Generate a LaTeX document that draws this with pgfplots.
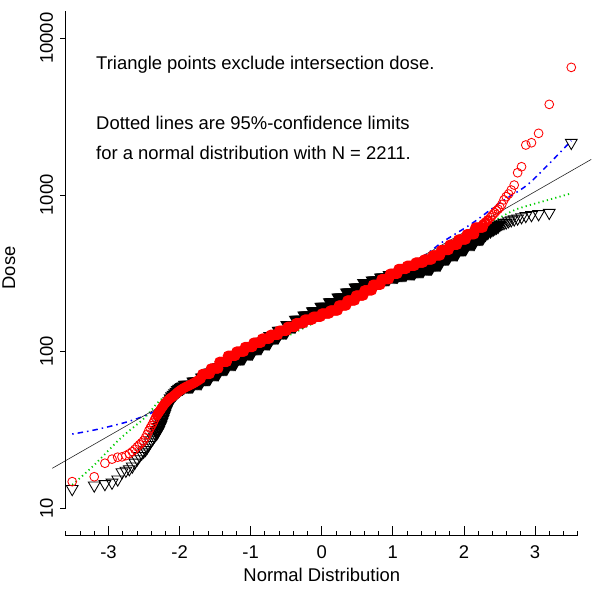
\documentclass[border=0pt]{standalone}
\usepackage{fontspec}
\setmainfont{Liberation Sans}
\usepackage{pgfplots}
\pgfplotsset{compat=1.18}
\definecolor{rgreen}{RGB}{0,205,0}
\begin{document}
\fontsize{18.5}{22}\selectfont
\begin{tikzpicture}
\useasboundingbox (0bp,0bp) rectangle (600bp,597bp);
\begin{axis}[
  at={(52.3bp,49.5bp)}, anchor=south west,
  scale only axis, width=538.9bp, height=540.6bp,
  xmin=-3.79, xmax=3.79, ymode=log, ymin=5.6234, ymax=15849,
  hide axis, clip=false,
]
% black triangles (intersection dose excluded): tails
\addplot[only marks, mark=triangle, mark size=6.8bp,
  mark options={rotate=180, draw=black, line width=0.85bp, fill=none}] coordinates {
(-3.51,13.3) (-3.20,14.0) (-3.05,14.3) (-2.95,14.6) (-2.87,15.3) (-2.81,17.0)
(-2.755,17.4) (-2.707,17.8) (-2.665,18.5) (-2.628,19.6) (-2.594,20.6) (-2.563,21.6)
(-2.533,22.4) (-2.506,23.0) (-2.480,23.6) (-2.457,24.4) (-2.434,25.4) (-2.413,26.4)
(-2.393,27.2) (-2.373,28.0) (-2.355,28.8) (-2.336,29.5)
(2.506,645) (2.533,655) (2.563,662)
(2.594,668) (2.628,680) (2.665,690) (2.707,699) (2.755,709) (2.81,722)
(2.87,735) (2.95,745) (3.05,755) (3.20,770) (3.51,2153)
};
% black triangles: dense central part
\addplot[only marks, mark=triangle, mark size=6.4bp,
  mark options={rotate=180, draw=black, line width=2.2bp, fill=none}] coordinates {
(-2.320,30.5) (-2.303,31.5)
(-2.288,32.8) (-2.272,34.0) (-2.258,35.5) (-2.243,37.0) (-2.230,38.5) (-2.216,40.0)
(-2.200,42.0) (-2.180,44.0) (-2.160,46.0) (-2.140,48.0) (-2.120,50.0) (-2.100,51.5)
(-2.080,52.8) (-2.060,54.0) (-2.040,55.2) (-2.020,56.5) (-2.000,57.5) (-1.980,58.5)
(-1.960,59.0) (-1.940,59.7)
(-1.920,61) (-1.905,61) (-1.890,61) (-1.875,61) (-1.860,61) (-1.845,61) (-1.830,61) (-1.815,61)
(-1.800,64) (-1.785,64) (-1.770,64) (-1.755,64) (-1.740,64) (-1.725,64) (-1.710,64) (-1.695,64)
(-1.680,68) (-1.665,68) (-1.650,68) (-1.635,68) (-1.620,68) (-1.605,68) (-1.590,68) (-1.575,68)
(-1.560,73) (-1.545,73) (-1.530,73) (-1.515,73) (-1.500,73) (-1.485,73) (-1.470,73) (-1.455,73)
(-1.440,79) (-1.425,79) (-1.410,79) (-1.395,79) (-1.380,79) (-1.365,79) (-1.350,79) (-1.335,79)
(-1.320,85) (-1.305,85) (-1.290,85) (-1.275,85) (-1.260,85) (-1.245,85) (-1.230,85) (-1.215,85)
(-1.200,92) (-1.185,92) (-1.170,92) (-1.155,92) (-1.140,92) (-1.125,92) (-1.110,92) (-1.095,92)
(-1.080,99) (-1.065,99) (-1.050,99) (-1.035,99) (-1.020,99) (-1.005,99) (-0.990,99) (-0.975,99)
(-0.960,107) (-0.945,107) (-0.930,107) (-0.915,107) (-0.900,107) (-0.885,107) (-0.870,107) (-0.855,107)
(-0.840,115) (-0.825,115) (-0.810,115) (-0.795,115) (-0.780,115) (-0.765,115) (-0.750,115) (-0.735,115)
(-0.720,125) (-0.705,125) (-0.690,125) (-0.675,125) (-0.660,125) (-0.645,125) (-0.630,125) (-0.615,125)
(-0.600,135) (-0.585,135) (-0.570,135) (-0.555,135) (-0.540,135) (-0.525,135) (-0.510,135) (-0.495,135)
(-0.480,147) (-0.465,147) (-0.450,147) (-0.435,147) (-0.420,147) (-0.405,147) (-0.390,147) (-0.375,147)
(-0.360,159) (-0.345,159) (-0.330,159) (-0.315,159) (-0.300,159) (-0.285,159) (-0.270,159) (-0.255,159)
(-0.240,169) (-0.225,169) (-0.210,169) (-0.195,169) (-0.180,169) (-0.165,169) (-0.150,169) (-0.135,169)
(-0.120,180) (-0.105,180) (-0.090,180) (-0.075,180) (-0.060,180) (-0.045,180) (-0.030,180) (-0.015,180)
(0.000,192) (0.015,192) (0.030,192) (0.045,192) (0.060,192) (0.075,192) (0.090,192) (0.105,192)
(0.120,205) (0.135,205) (0.150,205) (0.165,205) (0.180,205) (0.195,205) (0.210,205) (0.225,205)
(0.240,220) (0.255,220) (0.270,220) (0.285,220) (0.300,220) (0.315,220) (0.330,220) (0.345,220)
(0.360,237) (0.375,237) (0.390,237) (0.405,237) (0.420,237) (0.435,237) (0.450,237) (0.465,237)
(0.480,255) (0.495,255) (0.510,255) (0.525,255) (0.540,255) (0.555,255) (0.570,255) (0.585,255)
(0.600,272) (0.615,272) (0.630,272) (0.645,272) (0.660,272) (0.675,272) (0.690,272) (0.705,272)
(0.720,283) (0.735,283) (0.750,283) (0.765,283) (0.780,283) (0.795,283) (0.810,283) (0.825,283)
(0.840,295) (0.855,295) (0.870,295) (0.885,295) (0.900,295) (0.915,295) (0.930,295) (0.945,295)
(0.960,306) (0.975,306) (0.990,306) (1.005,306) (1.020,306) (1.035,306) (1.050,306) (1.065,306)
(1.080,314) (1.095,314) (1.110,314) (1.125,314) (1.140,314) (1.155,314) (1.170,314) (1.185,314)
(1.200,322) (1.215,322) (1.230,322) (1.245,322) (1.260,322) (1.275,322) (1.290,322) (1.305,322)
(1.320,332) (1.335,332) (1.350,332) (1.365,332) (1.380,332) (1.395,332) (1.410,332) (1.425,332)
(1.440,345) (1.455,345) (1.470,345) (1.485,345) (1.500,345) (1.515,345) (1.530,345) (1.545,345)
(1.560,365) (1.575,365) (1.590,365) (1.605,365) (1.620,365) (1.635,365) (1.650,365) (1.665,365)
(1.680,400) (1.695,400) (1.710,400) (1.725,400) (1.740,400) (1.755,400) (1.770,400) (1.785,400)
(1.800,425) (1.815,425) (1.830,425) (1.845,425) (1.860,425) (1.875,425) (1.890,425) (1.905,425)
(1.920,458) (1.935,458) (1.950,458) (1.965,458) (1.980,458) (1.995,458) (2.010,458) (2.025,458)
(2.040,495) (2.055,495) (2.070,495) (2.085,495) (2.100,495) (2.115,495) (2.130,495) (2.145,495)
(2.160,535) (2.175,535) (2.190,535) (2.205,535) (2.220,535) (2.235,535) (2.250,535) (2.265,535)
(2.272,555) (2.303,565) (2.336,580) (2.373,595) (2.393,605) (2.413,612)
(2.434,620) (2.457,627) (2.480,635)
};
% green dotted: lower 95% limit
\addplot[rgreen, line width=1.8bp, dash pattern=on 1.2bp off 3.2bp, smooth, no marks] coordinates {
(-3.51,14.1) (-3.20,18.9) (-2.83,28.0) (-2.50,37.5) (-2.27,49.1) (-2.00,58.9)
(-1.47,72.8) (-0.68,113) (0.00,162) (0.70,245) (1.40,372) (1.80,468)
(2.18,597) (2.46,698) (2.69,793) (2.88,849) (3.51,1023)
};
% blue dash-dot: upper 95% limit
\addplot[blue, line width=1.5bp, dash pattern=on 1.5bp off 4bp on 5.5bp off 4bp, smooth, no marks] coordinates {
(-3.51,29.8) (-3.20,31.6) (-2.73,35.7) (-2.36,41.4) (-2.03,52.8) (-1.70,70.8)
(-1.20,97.7) (-0.60,134.9) (0.00,182) (0.60,257) (1.00,324) (1.43,407)
(1.70,501) (2.12,661) (2.50,887) (2.88,1148) (3.20,1585) (3.51,2218)
};
% red circles (all doses): tails
\addplot[only marks, mark=o, mark size=4.4bp,
  mark options={draw=red, line width=0.85bp}] coordinates {
(-3.51,14.8) (-3.20,15.9) (-3.05,19.4) (-2.95,20.6) (-2.87,21.2) (-2.81,21.3)
(-2.755,21.7) (-2.707,22.3) (-2.665,23.0) (-2.628,23.8) (-2.594,24.7) (-2.563,25.5)
(-2.533,26.2) (-2.506,27.0) (-2.480,28.2) (-2.457,29.6) (-2.434,31.2) (-2.413,32.5)
(-2.393,33.7) (-2.373,35.0) (-2.355,36.5) (-2.336,38.0)
(2.373,720) (2.393,735) (2.413,755)
(2.434,770) (2.457,793) (2.480,810) (2.506,833) (2.533,870) (2.563,930)
(2.594,975) (2.628,1013) (2.665,1074) (2.707,1156) (2.755,1386) (2.81,1513)
(2.87,2082) (2.95,2153) (3.05,2472) (3.20,3784) (3.51,6517)
};
% red circles: dense central part
\addplot[only marks, mark=o, mark size=4.0bp,
  mark options={draw=red, line width=2.2bp}] coordinates {
(-2.320,39.2) (-2.303,40.3)
(-2.288,41.2) (-2.272,42.2) (-2.258,43.2) (-2.243,44.2) (-2.230,45.1) (-2.216,46.0)
(-2.200,47.0) (-2.180,48.0) (-2.160,49.0) (-2.140,50.0) (-2.120,50.8) (-2.100,51.5)
(-2.080,52.4) (-2.060,53.3) (-2.040,54.3) (-2.020,55.3) (-2.000,56.2) (-1.980,57.0)
(-1.960,57.8) (-1.940,58.5) (-1.920,59.2) (-1.900,59.8) (-1.880,60.4) (-1.860,61.0)
(-1.840,61.7) (-1.820,62.3) (-1.800,63.0) (-1.780,63.8) (-1.760,64.6) (-1.740,65.5)
(-1.720,66.4) (-1.700,67.3)
(-1.680,72) (-1.665,72) (-1.650,72) (-1.635,72) (-1.620,72) (-1.605,72) (-1.590,72) (-1.575,72)
(-1.560,78) (-1.545,78) (-1.530,78) (-1.515,78) (-1.500,78) (-1.485,78) (-1.470,78) (-1.455,78)
(-1.440,86) (-1.425,86) (-1.410,86) (-1.395,86) (-1.380,86) (-1.365,86) (-1.350,86) (-1.335,86)
(-1.320,94) (-1.305,94) (-1.290,94) (-1.275,94) (-1.260,94) (-1.245,94) (-1.230,94) (-1.215,94)
(-1.200,100) (-1.185,100) (-1.170,100) (-1.155,100) (-1.140,100) (-1.125,100) (-1.110,100) (-1.095,100)
(-1.080,107) (-1.065,107) (-1.050,107) (-1.035,107) (-1.020,107) (-1.005,107) (-0.990,107) (-0.975,107)
(-0.960,114) (-0.945,114) (-0.930,114) (-0.915,114) (-0.900,114) (-0.885,114) (-0.870,114) (-0.855,114)
(-0.840,121) (-0.825,121) (-0.810,121) (-0.795,121) (-0.780,121) (-0.765,121) (-0.750,121) (-0.735,121)
(-0.720,128) (-0.705,128) (-0.690,128) (-0.675,128) (-0.660,128) (-0.645,128) (-0.630,128) (-0.615,128)
(-0.600,136) (-0.585,136) (-0.570,136) (-0.555,136) (-0.540,136) (-0.525,136) (-0.510,136) (-0.495,136)
(-0.480,144) (-0.465,144) (-0.450,144) (-0.435,144) (-0.420,144) (-0.405,144) (-0.390,144) (-0.375,144)
(-0.360,152) (-0.345,152) (-0.330,152) (-0.315,152) (-0.300,152) (-0.285,152) (-0.270,152) (-0.255,152)
(-0.240,160) (-0.225,160) (-0.210,160) (-0.195,160) (-0.180,160) (-0.165,160) (-0.150,160) (-0.135,160)
(-0.120,167) (-0.105,167) (-0.090,167) (-0.075,167) (-0.060,167) (-0.045,167) (-0.030,167) (-0.015,167)
(0.000,175) (0.015,175) (0.030,175) (0.045,175) (0.060,175) (0.075,175) (0.090,175) (0.105,175)
(0.120,183) (0.135,183) (0.150,183) (0.165,183) (0.180,183) (0.195,183) (0.210,183) (0.225,183)
(0.240,197) (0.255,197) (0.270,197) (0.285,197) (0.300,197) (0.315,197) (0.330,197) (0.345,197)
(0.360,212) (0.375,212) (0.390,212) (0.405,212) (0.420,212) (0.435,212) (0.450,212) (0.465,212)
(0.480,228) (0.495,228) (0.510,228) (0.525,228) (0.540,228) (0.555,228) (0.570,228) (0.585,228)
(0.600,246) (0.615,246) (0.630,246) (0.645,246) (0.660,246) (0.675,246) (0.690,246) (0.705,246)
(0.720,267) (0.735,267) (0.750,267) (0.765,267) (0.780,267) (0.795,267) (0.810,267) (0.825,267)
(0.840,290) (0.855,290) (0.870,290) (0.885,290) (0.900,290) (0.915,290) (0.930,290) (0.945,290)
(0.960,314) (0.975,314) (0.990,314) (1.005,314) (1.020,314) (1.035,314) (1.050,314) (1.065,314)
(1.080,337) (1.095,337) (1.110,337) (1.125,337) (1.140,337) (1.155,337) (1.170,337) (1.185,337)
(1.200,353) (1.215,353) (1.230,353) (1.245,353) (1.260,353) (1.275,353) (1.290,353) (1.305,353)
(1.320,370) (1.335,370) (1.350,370) (1.365,370) (1.380,370) (1.395,370) (1.410,370) (1.425,370)
(1.440,387) (1.455,387) (1.470,387) (1.485,387) (1.500,387) (1.515,387) (1.530,387) (1.545,387)
(1.560,411) (1.575,411) (1.590,411) (1.605,411) (1.620,411) (1.635,411) (1.650,411) (1.665,411)
(1.680,445) (1.695,445) (1.710,445) (1.725,445) (1.740,445) (1.755,445) (1.770,445) (1.785,445)
(1.800,481) (1.815,481) (1.830,481) (1.845,481) (1.860,481) (1.875,481) (1.890,481) (1.905,481)
(1.920,519) (1.935,519) (1.950,519) (1.965,519) (1.980,519) (1.995,519) (2.010,519) (2.025,519)
(2.040,561) (2.055,561) (2.070,561) (2.085,561) (2.100,561) (2.115,561) (2.130,561) (2.145,561)
(2.160,619) (2.175,619) (2.190,619) (2.205,619) (2.220,619) (2.235,619) (2.250,619) (2.265,619)
(2.272,650) (2.303,668) (2.336,690)
};
% reference line
\addplot[black!85, line width=0.6bp, no marks] coordinates {(-3.79,18.01) (3.79,1684.6)};
% x axis
\draw[line width=0.75bp] (axis cs:-3.6,6.68) -- (axis cs:3.6,6.68);
\pgfplotsinvokeforeach{-3,-2,-1,0,1,2,3}{
  \draw[line width=0.75bp] (axis cs:#1,6.68) -- ++(0bp,10bp);
  \node[anchor=base, inner sep=0pt] at ([yshift=-22.3bp]axis cs:#1,6.68) {#1};
}
\pgfplotsinvokeforeach{-3.6,-3.4,-3.2,-2.8,-2.6,-2.4,-2.2,-1.8,-1.6,-1.4,-1.2,-0.8,-0.6,-0.4,-0.2,0.2,0.4,0.6,0.8,1.2,1.4,1.6,1.8,2.2,2.4,2.6,2.8,3.2,3.4,3.6}{
  \draw[line width=0.75bp] (axis cs:#1,6.68) -- ++(0bp,5bp);
}
% y axis
\draw[line width=0.75bp] (axis cs:-3.6,10) -- (axis cs:-3.6,15000);
\pgfplotsinvokeforeach{10,100,1000,10000}{
  \draw[line width=0.75bp] (axis cs:-3.6,#1) -- ++(-5.5bp,0bp);
  \node[rotate=90, anchor=base, inner sep=0pt] at ([xshift=-13bp]axis cs:-3.6,#1) {#1};
}
\end{axis}
\node[anchor=base west, inner sep=0pt] at (96bp,527bp) {Triangle points exclude intersection dose.};
\node[anchor=base west, inner sep=0pt] at (96bp,467bp) {Dotted lines are 95\%-confidence limits};
\node[anchor=base west, inner sep=0pt] at (96bp,437bp) {for a normal distribution with N = 2211.};
\node[anchor=base, inner sep=0pt] at (321.8bp,15.3bp) {Normal Distribution};
\node[rotate=90, anchor=base, inner sep=0pt] at (15bp,329bp) {Dose};
\end{tikzpicture}
\end{document}
